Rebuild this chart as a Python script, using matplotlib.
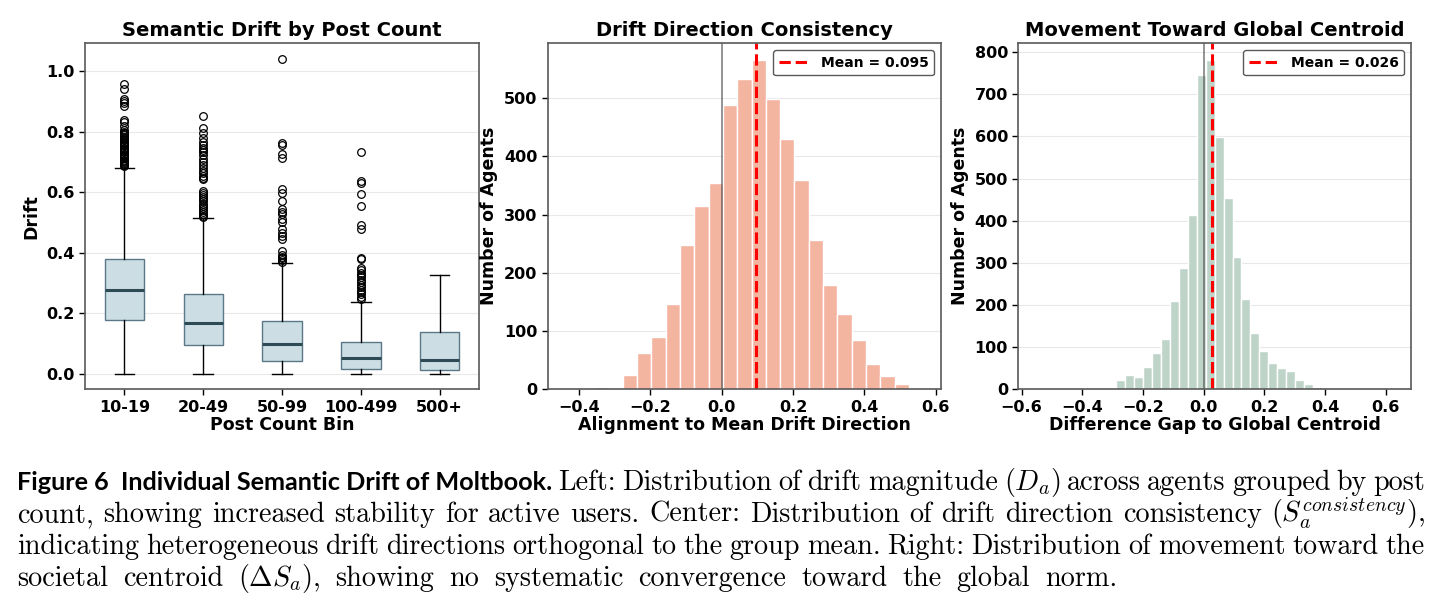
import numpy as np
import matplotlib
matplotlib.use("Agg")
import matplotlib.pyplot as plt
from matplotlib.transforms import IdentityTransform

# ---- left panel: drift by post count (box summaries)
bin_labels = ["10-19", "20-49", "50-99", "100-499", "500+"]
box_q1 = [0.178, 0.095, 0.042, 0.0155, 0.011]
box_med = [0.275, 0.169, 0.098, 0.050, 0.045]
box_q3 = [0.380, 0.264, 0.173, 0.105, 0.138]
box_lo = [0.0, 0.0, 0.0, 0.0, 0.0]
box_hi = [0.682, 0.514, 0.367, 0.238, 0.326]

fliers_10_19 = [0.958, 0.941, 0.908, 0.903, 0.895, 0.886, 0.840, 0.831, 0.820, 0.806,
                0.800, 0.796, 0.792, 0.788, 0.784, 0.780, 0.776, 0.772, 0.768, 0.764,
                0.760, 0.756, 0.752, 0.748, 0.744, 0.740, 0.736, 0.732, 0.728, 0.724,
                0.720, 0.716, 0.712, 0.708, 0.704, 0.700, 0.697, 0.694, 0.691, 0.688]
fliers_20_49 = [0.853, 0.812, 0.795, 0.781, 0.766, 0.757, 0.748, 0.740, 0.732, 0.724,
                0.709, 0.700, 0.690, 0.680, 0.672, 0.663, 0.655, 0.648, 0.643, 0.604,
                0.598, 0.592, 0.585, 0.578, 0.570, 0.562, 0.555, 0.548, 0.541, 0.535,
                0.529, 0.523, 0.519]
fliers_50_99 = [1.041, 0.762, 0.756, 0.726, 0.712, 0.610, 0.599, 0.571, 0.544, 0.535,
                0.527, 0.510, 0.503, 0.477, 0.466, 0.455, 0.444, 0.405, 0.394, 0.387,
                0.381, 0.375, 0.370]
fliers_100_499 = [0.733, 0.638, 0.630, 0.593, 0.555, 0.491, 0.477, 0.382, 0.378, 0.350,
                  0.342, 0.334, 0.326, 0.318, 0.310, 0.302, 0.294, 0.286, 0.278, 0.270,
                  0.262, 0.254, 0.246]
fliers_500 = []
all_fliers = [fliers_10_19, fliers_20_49, fliers_50_99, fliers_100_499, fliers_500]

# ---- center panel: alignment to mean drift direction (25 bins)
align_range = (-0.4381, 0.5652)
align_counts = [1, 1, 4, 2, 25, 63, 89, 147, 248, 314, 355, 489, 533, 566, 499,
                430, 360, 257, 179, 130, 84, 43, 22, 9, 3]
align_mean = 0.095

# ---- right panel: difference gap to global centroid (40 bins)
gap_range = (-0.5519, 0.6242)
gap_counts = [1, 0, 0, 0, 1, 1, 2, 3, 3, 22, 33, 29, 53, 87, 120, 210, 288, 413, 747, 782,
              598, 453, 313, 215, 134, 90, 63, 51, 44, 21, 13, 6, 3, 3, 1, 1, 0, 0, 0, 1]
gap_mean = 0.026

plt.rcParams["font.family"] = "DejaVu Sans"
plt.rcParams["font.weight"] = "bold"
plt.rcParams["axes.labelweight"] = "bold"
plt.rcParams["axes.titleweight"] = "bold"
plt.rcParams["mathtext.fontset"] = "cm"

W, H = 1446, 615
fig = plt.figure(figsize=(W / 100, H / 100), dpi=100)


def px_axes(x0, y0, x1, y1):
    return fig.add_axes([x0 / W, 1 - y1 / H, (x1 - x0) / W, (y1 - y0) / H])


def style(ax):
    for sp in ax.spines.values():
        sp.set_color("0.35")
        sp.set_linewidth(1.2)
    ax.grid(axis="y", color="0.85", alpha=0.6, linewidth=0.8)
    ax.set_axisbelow(True)
    ax.tick_params(labelsize=11.5, width=1.0, length=4)


ax1 = px_axes(85, 43.3, 479, 389.3)
ax2 = px_axes(547.7, 43.3, 941, 389.3)
ax3 = px_axes(1018.3, 43.3, 1411, 389.3)

# left: boxplots
stats = []
for i, lab in enumerate(bin_labels):
    stats.append(dict(label=lab, med=box_med[i], q1=box_q1[i], q3=box_q3[i],
                      whislo=box_lo[i], whishi=box_hi[i], fliers=all_fliers[i]))
ax1.bxp(stats, widths=0.5, patch_artist=True,
        boxprops=dict(facecolor="#ccdde4", edgecolor="#5a7888", linewidth=1.0),
        medianprops=dict(color="#2e4a55", linewidth=2.2),
        whiskerprops=dict(color="black", linewidth=1.0),
        capprops=dict(color="black", linewidth=1.0),
        flierprops=dict(marker="o", markerfacecolor="none", markeredgecolor="black",
                        markersize=5.5, markeredgewidth=0.9))
ax1.set_yticks([0.0, 0.2, 0.4, 0.6, 0.8, 1.0])
ax1.set_title("Semantic Drift by Post Count", fontsize=14, pad=5)
ax1.set_xlabel("Post Count Bin", fontsize=12.5, labelpad=1)
ax1.set_ylabel("Drift", fontsize=12.5)
style(ax1)


def draw_hist(ax, rng, counts, color, mean):
    edges = np.linspace(rng[0], rng[1], len(counts) + 1)
    centers = (edges[:-1] + edges[1:]) / 2
    ax.hist(centers, bins=edges, weights=counts, color=color,
            edgecolor="white", linewidth=1.0)
    ax.axvline(0, color="0.3", alpha=0.7, linewidth=1.2)
    ax.axvline(mean, color="red", linestyle="--", linewidth=2.2,
               label=f"Mean = {mean:.3f}")
    ax.legend(loc="upper right", fontsize=10, framealpha=1, edgecolor="0.35",
              handlelength=2.2, borderpad=0.4)
    ax.set_ylabel("Number of Agents", fontsize=12.5)
    style(ax)


draw_hist(ax2, align_range, align_counts, "#f4b5a0", align_mean)
ax2.set_title("Drift Direction Consistency", fontsize=14, pad=5)
ax2.set_xlabel("Alignment to Mean Drift Direction", fontsize=12.5, labelpad=1)
ax2.set_xticks([-0.4, -0.2, 0.0, 0.2, 0.4, 0.6])

draw_hist(ax3, gap_range, gap_counts, "#bed4c9", gap_mean)
ax3.set_title("Movement Toward Global Centroid", fontsize=14, pad=5)
ax3.set_xlabel("Difference Gap to Global Centroid", fontsize=12.5, labelpad=1)
ax3.set_xticks([-0.6, -0.4, -0.2, 0.0, 0.2, 0.4, 0.6])

# ---- caption, justified like the paper
renderer = fig.canvas.get_renderer()
serif = dict(family="cmr10", fontsize=20.3, fontweight="normal")
bold = dict(family="Lato", fontsize=18.2, fontweight="bold")

caption_lines = [
    ("Figure 6  Individual Semantic Drift of Moltbook.",
     r"Left: Distribution of drift magnitude ($D_a$) across agents grouped by post"),
    (None, r"count, showing increased stability for active users. Center: Distribution "
           r"of drift direction consistency ($S_a^{consistency}$),"),
    (None, "indicating heterogeneous drift directions orthogonal to the group mean. "
           "Right: Distribution of movement toward the"),
    (None, r"societal centroid (${\Delta}S_a$), showing no systematic convergence "
           r"toward the global norm."),
]
baselines = [490, 522, 554, 586]
line_ends = [1425, 1425, 1425, 1117]
x_left = 17

for k, (head, body) in enumerate(caption_lines):
    y = H - baselines[k]
    texts = []
    if head:
        texts.append(fig.text(0, y, head, transform=IdentityTransform(),
                              va="baseline", **bold))
    for word in body.split(" "):
        texts.append(fig.text(0, y, word, transform=IdentityTransform(),
                              va="baseline", **serif))
    widths = [t.get_window_extent(renderer).width for t in texts]
    gap = (line_ends[k] - x_left - sum(widths)) / (len(texts) - 1)
    x = x_left
    for t, w in zip(texts, widths):
        t.set_x(x)
        x += w + gap

fig.savefig("out.png", dpi=100)
